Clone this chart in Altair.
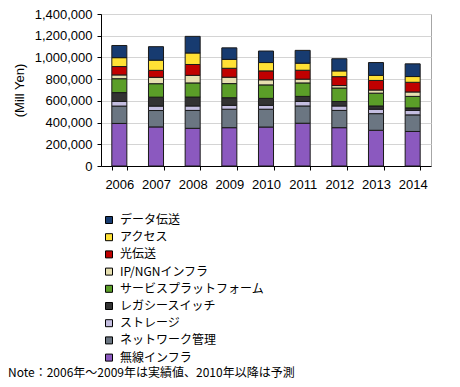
import altair as alt
import pandas as pd

years = ["2006", "2007", "2008", "2009", "2010", "2011", "2012", "2013", "2014"]

# stack order: bottom -> top
series = ["無線インフラ", "ネットワーク管理", "ストレージ", "レガシースイッチ",
          "サービスプラットフォーム", "IP/NGNインフラ", "光伝送", "アクセス", "データ伝送"]
colors = ["#8B59BF", "#6B7682", "#C4BEE0", "#333333",
          "#5B9E28", "#E6DFB0", "#C00000", "#FFE135", "#173B70"]

wireless = [392000, 360000, 347000, 353000, 359000, 394000, 353000, 329000, 318000]
network = [160000, 151000, 165000, 170000, 164000, 159000, 159000, 153000, 153000]
storage = [42000, 41000, 41000, 36000, 36000, 41000, 41000, 41000, 41000]
legacy = [82000, 82000, 82000, 70000, 64000, 47000, 41000, 30000, 23000]
service = [128000, 124000, 130000, 130000, 124000, 124000, 124000, 118000, 106000]
ipngn = [35000, 59000, 70000, 59000, 47000, 35000, 23000, 29000, 41000]
optical = [77000, 64000, 100000, 82000, 82000, 82000, 82000, 88000, 89000]
access = [82000, 94000, 106000, 82000, 77000, 65000, 53000, 47000, 53000]
data_tx = [112000, 124000, 153000, 106000, 106000, 118000, 112000, 118000, 117000]

y_ticks = [0, 200000, 400000, 600000, 800000, 1000000, 1200000, 1400000]
note = "Note：2006年～2009年は実績値、2010年以降は予測"

all_vals = [wireless, network, storage, legacy, service, ipngn, optical, access, data_tx]
rows = []
for si, (name, vals) in enumerate(zip(series, all_vals)):
    for y, v in zip(years, vals):
        rows.append({"year": y, "series": name, "value": v, "order": si})
df = pd.DataFrame(rows)

legend_order = list(reversed(series))
legend_colors = list(reversed(colors))

bars = alt.Chart(df).mark_bar(stroke="#1a1a1a", strokeWidth=1).encode(
    x=alt.X("year:N", sort=years,
            scale=alt.Scale(paddingInner=0.59, paddingOuter=0.295),
            axis=alt.Axis(title=None, labelAngle=0, labelFontSize=13,
                          labelFont="Liberation Sans", labelColor="#000000",
                          tickBand="extent", tickSize=4, tickColor="#000000",
                          domainColor="#000000", labelPadding=8)),
    y=alt.Y("value:Q", stack="zero",
            scale=alt.Scale(domain=[0, 1400000], nice=False),
            axis=alt.Axis(title="(Mill Yen)", values=y_ticks, format=",d",
                          labelFontSize=13, labelFont="Liberation Sans",
                          labelColor="#000000", titleFont="Liberation Sans",
                          titleFontSize=13, titleFontWeight="normal",
                          titleColor="#000000", titlePadding=8,
                          tickSize=4, tickColor="#000000", domainColor="#000000",
                          gridColor="#D4D4D4", labelPadding=5)),
    color=alt.Color("series:N", title=None,
                    scale=alt.Scale(domain=legend_order, range=legend_colors),
                    legend=alt.Legend(orient="none", legendX=2, legendY=200,
                                      labelFont="Noto Sans CJK JP", labelFontSize=12,
                                      labelColor="#000000",
                                      symbolType="square", symbolSize=49,
                                      symbolStrokeColor="#000000", symbolStrokeWidth=1,
                                      rowPadding=5.2, labelOffset=5, padding=0)),
    order=alt.Order("order:Q", sort="ascending"),
)

note_df = pd.DataFrame({"note": [note]})
note_text = alt.Chart(note_df).mark_text(
    align="left", baseline="middle", font="Noto Sans CJK JP", fontSize=12,
    color="#000000"
).encode(text="note:N", x=alt.value(-93), y=alt.value(359))

chart = alt.layer(bars, note_text).properties(
    width=330, height=152,
    autosize=alt.AutoSizeParams(type="none"),
    padding={"left": 93, "top": 6, "right": 21, "bottom": 213},
).configure_view(stroke="#A6A6A6", strokeWidth=1)

chart.save("out.html", embed_options={"renderer": "svg", "actions": False})
